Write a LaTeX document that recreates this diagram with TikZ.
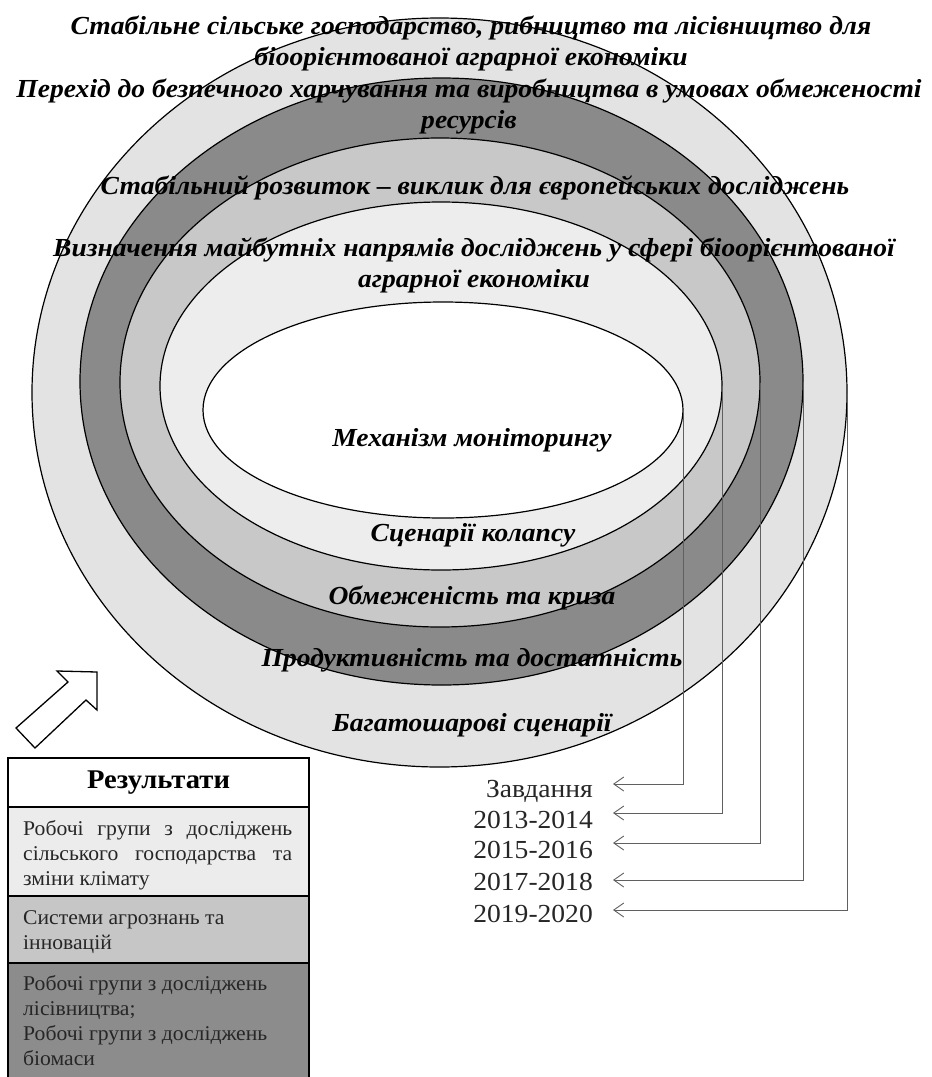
\documentclass[tikz,border=0pt]{standalone}
\usepackage{fontspec}
\setmainfont{Liberation Serif}
\newfontfamily\wide[FakeStretch=1.06]{Liberation Serif}
\newfontfamily\boxf[FakeStretch=1.03]{Liberation Serif}
\usetikzlibrary{shapes.geometric,arrows.meta}
\definecolor{outerc}{HTML}{E3E3E3}
\definecolor{darkc}{HTML}{8A8A8A}
\definecolor{midc}{HTML}{C8C8C8}
\definecolor{lightc}{HTML}{EDEDED}
\definecolor{rowa}{HTML}{ECECEC}
\definecolor{rowb}{HTML}{C6C6C6}
\definecolor{rowc}{HTML}{8C8C8C}
\definecolor{linec}{HTML}{606060}
\tikzset{
  ring/.style={ellipse, draw=black, line width=1.2pt, inner sep=0pt},
  lbl/.style={font=\wide\bfseries\itshape\fontsize{26}{31}\selectfont, align=center, inner sep=0pt},
  yr/.style={font=\wide\fontsize{26}{28}\selectfont, anchor=base east, inner sep=0pt, text=black!85},
  conn/.style={draw=linec, line width=0.9pt, -{Straight Barb[length=10pt,width=14pt]}},
  rowbox/.style={draw=black, line width=2pt, minimum width=301pt, anchor=north west, inner sep=0pt},
  rowtxt/.style={font=\boxf\fontsize{21}{25}\selectfont, align=left, anchor=north west, inner sep=0pt, text=black!85},
}
\begin{document}
\begin{tikzpicture}[x=1pt,y=-1pt]
\useasboundingbox (0,0) rectangle (932,1077);
% rings
\node[ring, fill=outerc, minimum width=815pt, minimum height=749pt] (e5) at (439.5,392.5) {};
\node[ring, fill=darkc, minimum width=723pt, minimum height=607pt] (e4) at (441.5,381.5) {};
\node[ring, fill=midc, minimum width=640pt, minimum height=489pt] (e3) at (440,382.5) {};
\node[ring, fill=lightc, minimum width=562pt, minimum height=368pt] (e2) at (441,386) {};
\node[ring, fill=white, minimum width=480pt, minimum height=216pt] (e1) at (443,410) {};
% arrow tips
\coordinate (a1) at (613,784);
\coordinate (a2) at (613,813);
\coordinate (a3) at (613,843);
\coordinate (a4) at (613,880);
\coordinate (a5) at (613,910);
\draw[conn] (e1.east) |- (a1);
\draw[conn] (e2.east) |- (a2);
\draw[conn] (e3.east) |- (a3);
\draw[conn] (e4.east) |- (a4);
\draw[conn] (e5.east) |- (a5);
% ring labels
\node[lbl] (l1) at (471,43) {Стабільне сільське господарство, рибництво та лісівництво для\\біоорієнтованої аграрної економіки};
\node[lbl] (l2) at (469,106) {Перехід до безпечного харчування та виробництва в умовах обмеженості\\ресурсів};
\node[lbl] (l3) at (475,188) {Стабільний розвиток – виклик для європейських досліджень};
\node[lbl] (l4) at (474,265) {Визначення майбутніх напрямів досліджень у сфері біоорієнтованої\\аграрної економіки};
\node[lbl] (m1) at (472,440) {Механізм моніторингу};
\node[lbl] (m2) at (473,535) {Сценарії колапсу};
\node[lbl] (m3) at (472,598) {Обмеженість та криза};
\node[lbl] (m4) at (472,660) {Продуктивність та достатність};
\node[lbl] (m5) at (472,725) {Багатошарові сценарії};
% year labels
\node[yr] (y1) at (593,797) {Завдання};
\node[yr] (y2) at (593,828) {2013-2014};
\node[yr] (y3) at (593,858) {2015-2016};
\node[yr] (y4) at (593,890) {2017-2018};
\node[yr] (y5) at (593,922) {2019-2020};
% hollow arrow
\draw[line width=1.3pt, fill=white, line join=miter] (97,672) -- (57,671) -- (68,682) -- (16,728) -- (35,748) -- (86,700) -- (97,710) -- cycle;
% results box
\node[rowbox, fill=white, minimum height=49pt] (hdr) at (7,757) {};
\node[font=\wide\bfseries\fontsize{27}{30}\selectfont, inner sep=0pt] (hdrt) at (hdr.center) {Результати};
\node[rowbox, fill=rowa, minimum height=89pt] (r1) at (7,806) {};
\node[rowbox, fill=rowb, minimum height=67pt] (r2) at (7,895) {};
\node[rowbox, fill=rowc, minimum height=130pt] (r3) at (7,962) {};
\node[rowtxt] (r1t) at (23,820) {\makebox[269pt][s]{Робочі групи з досліджень}\\\makebox[269pt][s]{сільського господарства та}\\зміни клімату};
\node[rowtxt] (r2t) at (23,910) {Системи агрознань та\\інновацій};
\node[rowtxt] (r3t) at (23,975) {Робочі групи з досліджень\\лісівництва;\\Робочі групи з досліджень\\біомаси};
\end{tikzpicture}
\end{document}
